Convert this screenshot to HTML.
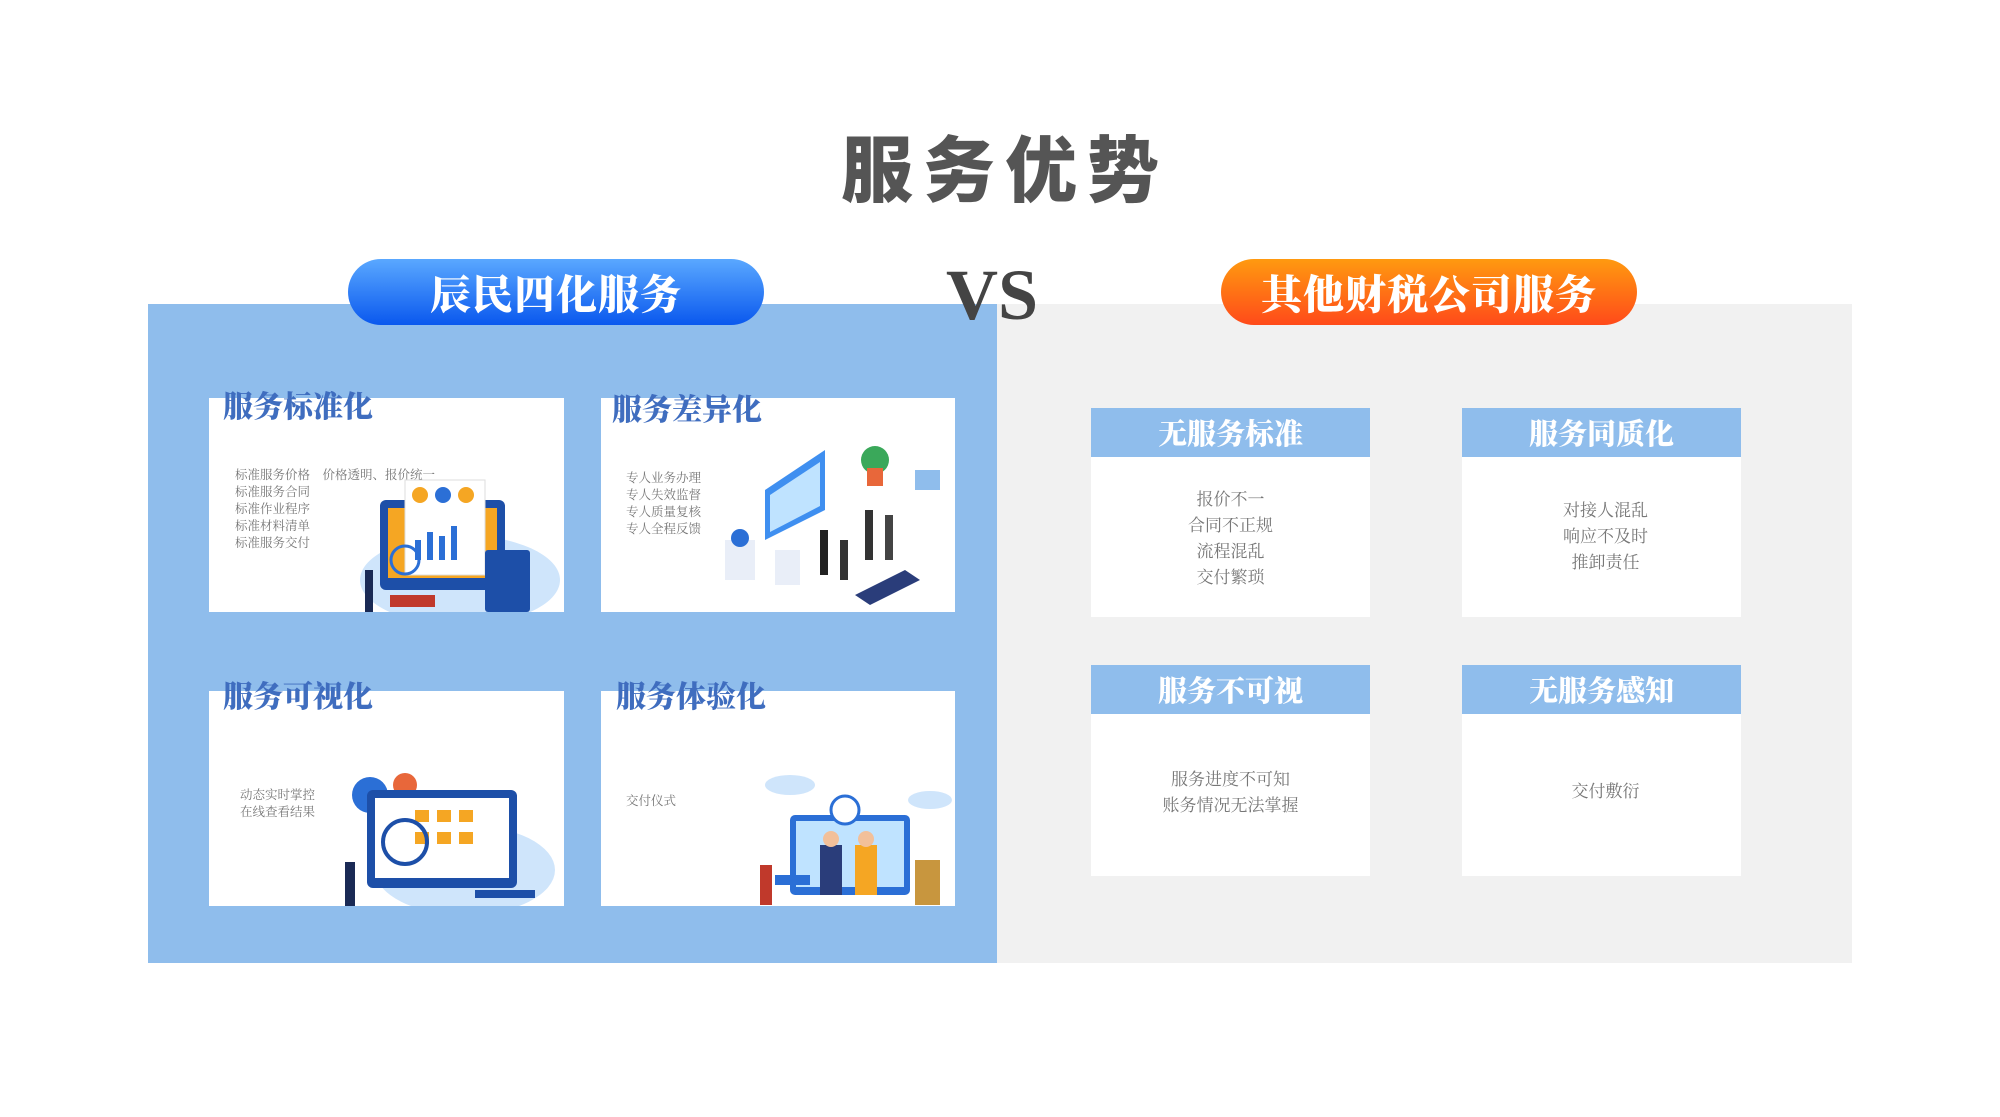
<!DOCTYPE html>
<html><head><meta charset="utf-8"><style>
*{margin:0;padding:0;box-sizing:border-box}
body{width:2000px;height:1117px;background:#fff;position:relative;overflow:hidden;font-family:"Liberation Serif","Noto Serif CJK SC",serif}
.a{position:absolute}
.title{left:0;width:2000px;top:112px;text-align:center;font:900 72px "Liberation Sans","Noto Sans CJK SC",sans-serif;color:#555;letter-spacing:10px;padding-left:10px}
.pill{height:66px;border-radius:33px;color:#fff;font-weight:900;font-size:41px;text-align:center;line-height:66px;letter-spacing:1px;font-family:"Noto Serif CJK SC",serif}
.card{background:#fff}
.ct{font-weight:900;font-size:30px;color:#3f6dbf;font-family:"Noto Serif CJK SC",serif}
.st{font-size:12.5px;color:#777;line-height:17px;font-family:"Noto Serif CJK SC",serif}
.hd{background:#8fbdec;color:#fff;font-weight:900;font-size:29px;text-align:center;line-height:49px;height:49px;font-family:"Noto Serif CJK SC",serif}
.bd{text-align:center;color:#777;font-size:17px;line-height:26px;font-family:"Noto Serif CJK SC",serif}
</style></head><body>
<div class="a title">服务优势</div>
<div class="a" style="left:148px;top:304px;width:849px;height:659px;background:#8fbdec"></div>
<div class="a" style="left:997px;top:304px;width:855px;height:659px;background:#f1f1f1"></div>
<div class="a pill" style="left:348px;top:259px;width:416px;background:linear-gradient(#5aa8ff,#0a58ee)">辰民四化服务</div>
<div class="a pill" style="left:1221px;top:259px;width:416px;background:linear-gradient(#ff9a10,#ff4a1a)">其他财税公司服务</div>
<div class="a" style="left:946px;top:254px;font:700 72px 'Liberation Serif',serif;color:#444">VS</div>

<div class="a card" style="left:209px;top:398px;width:355px;height:214px"></div>
<div class="a card" style="left:601px;top:398px;width:354px;height:214px"></div>
<div class="a card" style="left:209px;top:691px;width:355px;height:215px"></div>
<div class="a card" style="left:601px;top:691px;width:354px;height:215px"></div>
<div class="a ct" style="left:223px;top:382px">服务标准化</div>
<div class="a ct" style="left:612px;top:385px">服务差异化</div>
<div class="a ct" style="left:223px;top:672px">服务可视化</div>
<div class="a ct" style="left:616px;top:672px">服务体验化</div>
<div class="a st" style="left:235px;top:466px">标准服务价格　价格透明、报价统一<br>标准服务合同<br>标准作业程序<br>标准材料清单<br>标准服务交付</div>
<div class="a st" style="left:626px;top:469px">专人业务办理<br>专人失效监督<br>专人质量复核<br>专人全程反馈</div>
<div class="a st" style="left:240px;top:786px">动态实时掌控<br>在线查看结果</div>
<div class="a st" style="left:626px;top:792px">交付仪式</div>

<svg class="a" style="left:330px;top:460px" width="230" height="152">
<ellipse cx="130" cy="120" rx="100" ry="45" fill="#cfe5fb"/>
<rect x="50" y="40" width="125" height="90" rx="6" fill="#1d4fa8"/>
<rect x="58" y="48" width="109" height="70" fill="#f5a623"/>
<rect x="75" y="20" width="80" height="95" fill="#fff" stroke="#ddd"/>
<circle cx="90" cy="35" r="8" fill="#f5a623"/><circle cx="113" cy="35" r="8" fill="#2b6fd6"/><circle cx="136" cy="35" r="8" fill="#f5a623"/>
<rect x="85" y="80" width="6" height="20" fill="#2b6fd6"/><rect x="97" y="72" width="6" height="28" fill="#2b6fd6"/><rect x="109" y="76" width="6" height="24" fill="#2b6fd6"/><rect x="121" y="66" width="6" height="34" fill="#2b6fd6"/>
<rect x="155" y="90" width="45" height="62" rx="3" fill="#1d4fa8"/>
<circle cx="75" cy="100" r="14" fill="none" stroke="#2b6fd6" stroke-width="3"/>
<rect x="35" y="110" width="8" height="42" fill="#1a2a55"/>
<rect x="60" y="135" width="45" height="12" fill="#c0392b"/>
</svg>
<svg class="a" style="left:715px;top:430px" width="235" height="180">
<path d="M50 60 L110 20 L110 80 L50 110Z" fill="#3f8ff0"/>
<path d="M55 65 L105 32 L105 76 L55 102Z" fill="#bfe3ff"/>
<circle cx="160" cy="30" r="14" fill="#3aa85a"/><rect x="152" y="38" width="16" height="18" fill="#e8673a"/>
<rect x="10" y="110" width="30" height="40" fill="#e9eef8"/><circle cx="25" cy="108" r="9" fill="#2b6fd6"/>
<rect x="60" y="120" width="25" height="35" fill="#e9eef8"/>
<rect x="105" y="100" width="8" height="45" fill="#222"/><rect x="125" y="110" width="8" height="40" fill="#333"/><rect x="150" y="80" width="8" height="50" fill="#333"/><rect x="170" y="85" width="8" height="45" fill="#444"/>
<path d="M140 165 L190 140 L205 150 L155 175Z" fill="#2a3d7a"/>
<rect x="200" y="40" width="25" height="20" fill="#8fbdec"/>
</svg>
<svg class="a" style="left:325px;top:770px" width="230" height="136">
<ellipse cx="140" cy="100" rx="90" ry="45" fill="#cfe5fb"/>
<circle cx="45" cy="25" r="18" fill="#2b6fd6"/><circle cx="80" cy="15" r="12" fill="#e8673a"/>
<rect x="42" y="20" width="150" height="98" rx="6" fill="#1d4fa8"/>
<rect x="50" y="28" width="134" height="80" fill="#fff"/>
<rect x="90" y="40" width="14" height="12" fill="#f5a623"/><rect x="112" y="40" width="14" height="12" fill="#f5a623"/><rect x="134" y="40" width="14" height="12" fill="#f5a623"/>
<rect x="90" y="62" width="14" height="12" fill="#f5a623"/><rect x="112" y="62" width="14" height="12" fill="#f5a623"/><rect x="134" y="62" width="14" height="12" fill="#f5a623"/>
<circle cx="80" cy="72" r="22" fill="none" stroke="#1d4fa8" stroke-width="4"/>
<rect x="20" y="92" width="10" height="44" fill="#1a2a55"/>
<rect x="150" y="120" width="60" height="8" fill="#1d4fa8"/>
</svg>
<svg class="a" style="left:730px;top:765px" width="225" height="141">
<ellipse cx="60" cy="20" rx="25" ry="10" fill="#cfe5fb"/><ellipse cx="200" cy="35" rx="22" ry="9" fill="#cfe5fb"/>
<rect x="60" y="50" width="120" height="80" rx="5" fill="#2b6fd6"/>
<rect x="66" y="56" width="108" height="66" fill="#bfe3ff"/>
<circle cx="115" cy="45" r="14" fill="#fff" stroke="#2b6fd6" stroke-width="3"/>
<rect x="90" y="80" width="22" height="50" fill="#2a3d7a"/><circle cx="101" cy="74" r="8" fill="#f2c09a"/>
<rect x="125" y="80" width="22" height="50" fill="#f5a623"/><circle cx="136" cy="74" r="8" fill="#f2c09a"/>
<rect x="30" y="100" width="12" height="40" fill="#c0392b"/><rect x="45" y="110" width="35" height="10" fill="#2b6fd6"/>
<rect x="185" y="95" width="25" height="45" fill="#c8963e"/>
</svg>

<div class="a card" style="left:1091px;top:408px;width:279px;height:209px"></div>
<div class="a hd" style="left:1091px;top:408px;width:279px">无服务标准</div>
<div class="a bd" style="left:1091px;top:485px;width:279px">报价不一<br>合同不正规<br>流程混乱<br>交付繁琐</div>
<div class="a card" style="left:1462px;top:408px;width:279px;height:209px"></div>
<div class="a hd" style="left:1462px;top:408px;width:279px">服务同质化</div>
<div class="a bd" style="left:1466px;top:496px;width:279px">对接人混乱<br>响应不及时<br>推卸责任</div>
<div class="a card" style="left:1091px;top:665px;width:279px;height:211px"></div>
<div class="a hd" style="left:1091px;top:665px;width:279px">服务不可视</div>
<div class="a bd" style="left:1091px;top:765px;width:279px">服务进度不可知<br>账务情况无法掌握</div>
<div class="a card" style="left:1462px;top:665px;width:279px;height:211px"></div>
<div class="a hd" style="left:1462px;top:665px;width:279px">无服务感知</div>
<div class="a bd" style="left:1466px;top:777px;width:279px">交付敷衍</div>
</body></html>
